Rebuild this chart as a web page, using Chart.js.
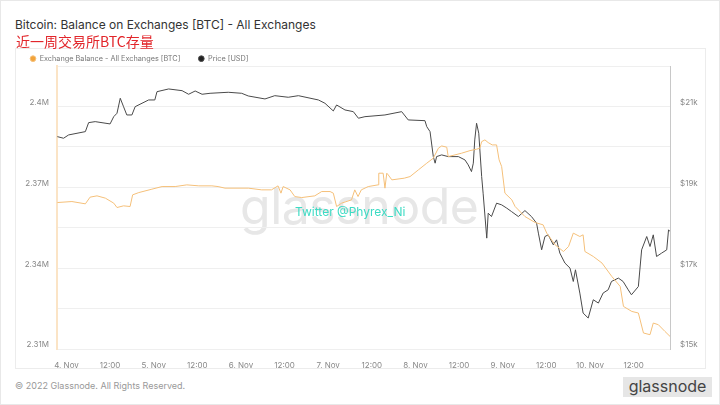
<!DOCTYPE html>
<html>
<head>
<meta charset="utf-8">
<script src="https://cdn.jsdelivr.net/npm/chart.js@4.4.0/dist/chart.umd.min.js"></script>
<style>
  body { margin: 0; width: 720px; height: 405px; overflow: hidden; background: #fff; font-family: Inter, "Noto Sans", sans-serif; }
  #frame { position: absolute; left: 0; top: 0; width: 718px; height: 403px; border: 1px solid #e8e8e8; }
  #title { position: absolute; left: 15px; top: 17px; font-size: 12px; line-height: 15px; color: #333; }
  #subtitle { position: absolute; left: 16px; top: 33px; font-size: 14px; line-height: 17px; color: #e2262b; font-family: "Noto Sans CJK SC", sans-serif; z-index: 3; }
  #card { position: absolute; left: 15px; top: 48px; width: 689px; height: 319px; border: 1px solid #ececec; }
  #wm { position: absolute; left: 240px; top: 176px; font-size: 50px; line-height: 60px; color: #e7e7e7; letter-spacing: -0.5px; }
  #tw { position: absolute; left: 295px; top: 204px; font-size: 12px; line-height: 15px; color: #3ddbc4; z-index: 3; }
  #chartbox { position: absolute; left: 0; top: 37px; width: 720px; height: 331px; z-index: 2; }
  #foot { position: absolute; left: 15px; top: 380px; font-size: 9px; line-height: 12px; color: #999; }
  #logo { position: absolute; left: 623px; top: 377px; width: 89px; height: 20px; background: #e6e6e6; color: #444; font-size: 16px; line-height: 19px; text-align: center; }
</style>
</head>
<body>
<div id="frame"></div>
<div id="title">Bitcoin: Balance on Exchanges [BTC] - All Exchanges</div>
<div id="subtitle">近一周交易所BTC存量</div>
<div id="card"></div>
<div id="wm">glassnode</div>
<div id="tw">Twitter @Phyrex_Ni</div>
<div id="chartbox"><canvas id="chart" width="720" height="331"></canvas></div>
<div id="foot">© 2022 Glassnode. All Rights Reserved.</div>
<div id="logo">glassnode</div>

<script>
// hours counted from 4. Nov 00:00
var balanceHours = [-2.5,1.5,5.2,6.5,8.4,10.7,13.0,13.9,15.7,17.5,18.2,19.9,23.5,26.3,29.9,33.1,36.4,40.0,41.7,43.6,
  50.0,53.7,56.4,58.2,59.0,59.6,61.5,62.8,64.7,68.3,70.2,72.5,73.4,74.3,75.7,78.4,79.3,80.2,81.1,83.0,
  85.7,85.9,87.1,87.6,88.1,88.5,89.5,92.9,94.5,96.8,99.1,100.9,102.3,103.2,104.6,105.0,108.7,111.0,112.8,113.7,
  114.2,115.1,116.0,117.1,118.3,119.0,119.7,120.6,122.5,123.4,126.1,128.9,131.1,132.1,134.4,136.7,138.1,139.4,141.2,142.1,
  142.6,144.9,147.3,150.0,152.3,153.2,155.5,157.3,158.7,160.5,161.4,162.8,164.6,166.0];
var balanceValues = [2364340,2364710,2363860,2366340,2366820,2365970,2364120,2362490,2363120,2362860,2367190,2368040,2369300,2370270,2370270,2370900,2370530,2370530,2370270,2369680,
  2369680,2369050,2369050,2370530,2367820,2370270,2369050,2366560,2366190,2366820,2368420,2368420,2367820,2362860,2364120,2365340,2369050,2366560,2369050,2370270,
  2370900,2375230,2375230,2369680,2375230,2374600,2372750,2373380,2373970,2376460,2378940,2380790,2384500,2385350,2384870,2381390,2382650,2383610,2384130,2384500,
  2386950,2387580,2386580,2385720,2385720,2380160,2377680,2367820,2365340,2362860,2359150,2356930,2356070,2352990,2348660,2346180,2348030,2352990,2351740,2352370,
  2346180,2344330,2341880,2336910,2333210,2325800,2323940,2323350,2315940,2315310,2319640,2319010,2316530,2314680];

var priceHours = [-2.5,-0.8,0.6,5.2,6.1,7.9,12.0,13.0,13.9,14.8,15.7,16.6,18.0,18.9,22.6,24.3,24.9,28.1,31.8,33.6,
  35.4,37.3,39.5,44.5,48.2,50.0,54.6,57.3,61.0,63.8,69.3,71.1,73.4,74.3,76.6,78.9,80.3,82.1,87.6,92.2,
  94.0,98.6,99.1,100.0,100.9,101.4,101.8,103.2,105.0,107.8,109.6,110.5,111.4,111.9,112.3,112.8,113.4,114.2,114.6,115.6,
  116.0,116.9,118.3,119.7,121.1,122.4,124.3,126.1,127.9,129.3,129.8,130.7,131.6,132.5,133.9,134.8,135.7,137.1,138.5,139.4,
  140.0,141.2,142.1,143.5,144.9,146.3,147.6,149.0,149.9,151.8,153.1,154.5,155.4,157.3,158.2,159.6,160.5,161.4,162.3,163.7,
  165.1,165.6,166.0];
var priceValues = [20253,20213,20295,20377,20599,20624,20567,20747,20831,21202,20994,20789,20789,20994,21160,21160,21365,21432,21390,21301,
  21382,21301,21325,21350,21325,21259,21185,21266,21227,21266,21160,21078,20888,21036,20913,20871,20708,20747,20789,20871,
  20666,20648,20500,20377,19759,19596,19759,19801,19759,19759,19677,19554,19388,19596,20171,20584,20337,19265,18854,17742,
  18360,18276,18607,18565,18484,18400,18276,18424,18276,18113,17866,17453,17782,17824,17577,17700,17372,17125,17001,16670,
  16959,16383,15889,15766,16218,16136,16383,16465,16670,16754,16670,16465,16341,16546,17453,17782,17535,17824,17288,17372,
  17453,17948,17906];

var xTicks = [0,12,24,36,48,60,72,84,96,108,120,132,144,156];
var dayNames = ['4. Nov','5. Nov','6. Nov','7. Nov','8. Nov','9. Nov','10. Nov'];
var balanceTicks = [2310000,2325000,2340000,2355000,2370000,2385000,2400000,2415000];
var priceTicks = [15000,16000,17000,18000,19000,20000,21000,22000];

function toPoints(xs, ys) {
  return xs.map(function (h, i) { return { x: h, y: ys[i] }; });
}

var tickFont = { family: 'Inter', size: 8 };

var legendHeight = {
  id: 'legendHeight',
  beforeInit: function (chart) {
    var fit = chart.legend.fit;
    chart.legend.fit = function () { fit.call(this); this.height = 29; };
  }
};

new Chart(document.getElementById('chart'), {
  type: 'line',
  data: {
    datasets: [{
      label: 'Exchange Balance - All Exchanges [BTC]',
      data: toPoints(balanceHours, balanceValues),
      borderColor: '#f5c07a',
      backgroundColor: '#f2a33a',
      borderWidth: 1,
      pointRadius: 0,
      yAxisID: 'y'
    }, {
      label: 'Price [USD]',
      data: toPoints(priceHours, priceValues),
      borderColor: '#4a4a4a',
      backgroundColor: '#222',
      borderWidth: 1,
      pointRadius: 0,
      yAxisID: 'y1'
    }]
  },
  options: {
    responsive: false,
    animation: false,
    layout: { padding: { left: 12, top: 0, right: 0, bottom: 0 } },
    plugins: {
      legend: {
        align: 'start',
        labels: {
          usePointStyle: true,
          pointStyle: 'circle',
          boxWidth: 6,
          boxHeight: 4,
          padding: 18,
          color: '#777',
          font: { family: 'Inter', size: 7.3 }
        }
      },
      tooltip: { enabled: false }
    },
    scales: {
      x: {
        type: 'linear',
        min: -2.6,
        max: 166,
        grid: { display: false },
        border: { display: false },
        afterBuildTicks: function (s) { s.ticks = xTicks.map(function (v) { return { value: v }; }); },
        afterFit: function (s) { s.height = 19; },
        ticks: {
          autoSkip: false,
          maxRotation: 0,
          padding: 4,
          color: '#888',
          font: tickFont,
          callback: function (v) { return v % 24 === 0 ? dayNames[v / 24] : '12:00'; }
        }
      },
      y: {
        position: 'left',
        min: 2310000,
        max: 2415000,
        grid: { color: '#efefef', drawTicks: false },
        border: { color: '#fbe4c6', width: 2 },
        afterBuildTicks: function (s) { s.ticks = balanceTicks.map(function (v) { return { value: v }; }); },
        afterFit: function (s) { s.width = 45; },
        ticks: {
          padding: 8,
          labelOffset: -4,
          color: '#888',
          font: tickFont,
          callback: function (v) { return (v - 2310000) % 30000 === 0 ? Number((v / 1e6).toFixed(2)) + 'M' : ''; }
        }
      },
      y1: {
        position: 'right',
        min: 15000,
        max: 22000,
        grid: { drawOnChartArea: false, drawTicks: false },
        border: { color: '#c8c8c8' },
        afterBuildTicks: function (s) { s.ticks = priceTicks.map(function (v) { return { value: v }; }); },
        afterFit: function (s) { s.width = 50; },
        ticks: {
          padding: 10,
          labelOffset: -4,
          color: '#888',
          font: tickFont,
          callback: function (v) { return (v - 15000) % 2000 === 0 ? '$' + v / 1000 + 'k' : ''; }
        }
      }
    }
  },
  plugins: [legendHeight]
});
</script>
</body>
</html>
